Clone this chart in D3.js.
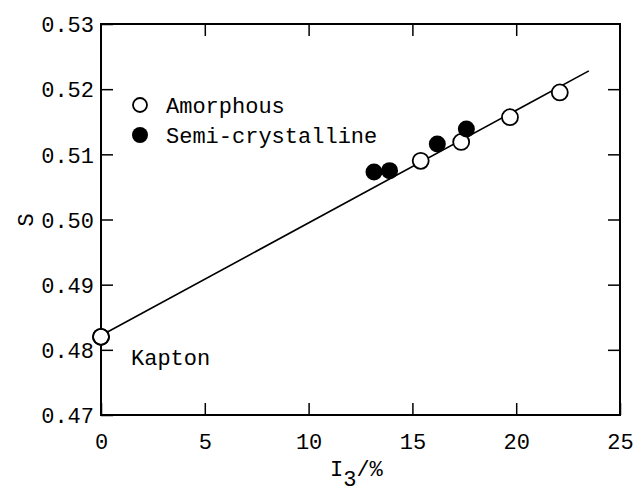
<!DOCTYPE html>
<html><head><meta charset="utf-8">
<script src="https://cdn.jsdelivr.net/npm/d3@7"></script>
<style>
html,body{margin:0;padding:0;background:#fff;}
text{font-family:"Liberation Mono","DejaVu Sans Mono",monospace;font-size:22px;fill:#000;}
</style></head>
<body><svg id="c" width="634" height="497"></svg>
<script>
// Data
const amorphousX = [0, 15.4, 17.35, 19.7, 22.1];
const amorphousY = [0.482, 0.5090, 0.5119, 0.5157, 0.5195];
const semiX = [13.15, 13.9, 16.2, 17.6];
const semiY = [0.5073, 0.5075, 0.5116, 0.5139];
const fitX = [0, 23.5];
const fitY = [0.4822, 0.5228];
const xTicks = [0, 5, 10, 15, 20, 25];
const yTicks = [0.47, 0.48, 0.49, 0.50, 0.51, 0.52, 0.53];
const legendLabels = ["Amorphous", "Semi-crystalline"];

const svg = d3.select("#c");
const L = 101, R = 620, T = 24, B = 415;
const x = d3.scaleLinear().domain([0, 25]).range([L, R]);
const y = d3.scaleLinear().domain([0.47, 0.53]).range([B, T]);
const tl = 12;
const FF = '"Liberation Mono","DejaVu Sans Mono",monospace';

// frame
svg.append("rect").attr("x", L).attr("y", T).attr("width", R - L).attr("height", B - T)
  .attr("fill", "none").attr("stroke", "#000").attr("stroke-width", 2);

// axes
const fmtY = d3.format(".2f");
const gB = svg.append("g").attr("transform", `translate(0,${B})`)
  .call(d3.axisBottom(x).tickValues(xTicks).tickSize(-tl).tickPadding(20).tickFormat(d3.format("d")));
const gT = svg.append("g").attr("transform", `translate(0,${T})`)
  .call(d3.axisTop(x).tickValues(xTicks.slice(1, -1)).tickSize(-tl).tickFormat(""));
const gL = svg.append("g").attr("transform", `translate(${L},0)`)
  .call(d3.axisLeft(y).tickValues(yTicks).tickSize(-tl).tickPadding(20).tickFormat(fmtY));
const gR = svg.append("g").attr("transform", `translate(${R},0)`)
  .call(d3.axisRight(y).tickValues(yTicks.slice(1, -1)).tickSize(-tl).tickFormat(""));
[gB, gT, gL, gR].forEach(g => {
  g.select(".domain").remove();
  g.selectAll("line").attr("stroke", "#000").attr("stroke-width", 1.5);
  g.selectAll("text").style("font-family", FF).style("font-size", "22px").attr("fill", "#000");
});
gL.selectAll(".tick text").attr("x", -7).attr("dy", "0.35em");
gB.selectAll(".tick text").attr("y", 18).attr("dy", "0.71em");

// fit line
svg.append("line")
  .attr("x1", x(fitX[0])).attr("y1", y(fitY[0]))
  .attr("x2", x(fitX[1])).attr("y2", y(fitY[1]))
  .attr("stroke", "#000").attr("stroke-width", 1.6);

// points
const amor = amorphousX.map((d, i) => [d, amorphousY[i]]);
const semi = semiX.map((d, i) => [d, semiY[i]]);
svg.selectAll("circle.a").data(amor).enter().append("circle")
  .attr("cx", d => x(d[0])).attr("cy", d => y(d[1])).attr("r", 8)
  .attr("fill", "#fff").attr("stroke", "#000").attr("stroke-width", 1.8);
svg.selectAll("circle.s").data(semi).enter().append("circle")
  .attr("cx", d => x(d[0])).attr("cy", d => y(d[1])).attr("r", 8.5)
  .attr("fill", "#000");
// Kapton point outline on top of axis
svg.append("circle").attr("cx", x(amor[0][0])).attr("cy", y(amor[0][1])).attr("r", 8)
  .attr("fill", "none").attr("stroke", "#000").attr("stroke-width", 1.8);

// legend
svg.append("circle").attr("cx", 140).attr("cy", 105).attr("r", 7)
  .attr("fill", "#fff").attr("stroke", "#000").attr("stroke-width", 1.8);
svg.append("text").attr("x", 166).attr("y", 113).text(legendLabels[0]);
svg.append("circle").attr("cx", 140).attr("cy", 135).attr("r", 8).attr("fill", "#000");
svg.append("text").attr("x", 166).attr("y", 143).text(legendLabels[1]);

// annotation
svg.append("text").attr("x", 131).attr("y", 365).text("Kapton");

// axis titles
svg.append("text").attr("transform", "translate(33,220) rotate(-90)")
  .attr("text-anchor", "middle").text("S");
const xt = svg.append("text").attr("x", 330).attr("y", 476);
xt.append("tspan").text("I");
xt.append("tspan").attr("dy", 10).text("3");
xt.append("tspan").attr("dy", -10).text("/%");
</script></body></html>
